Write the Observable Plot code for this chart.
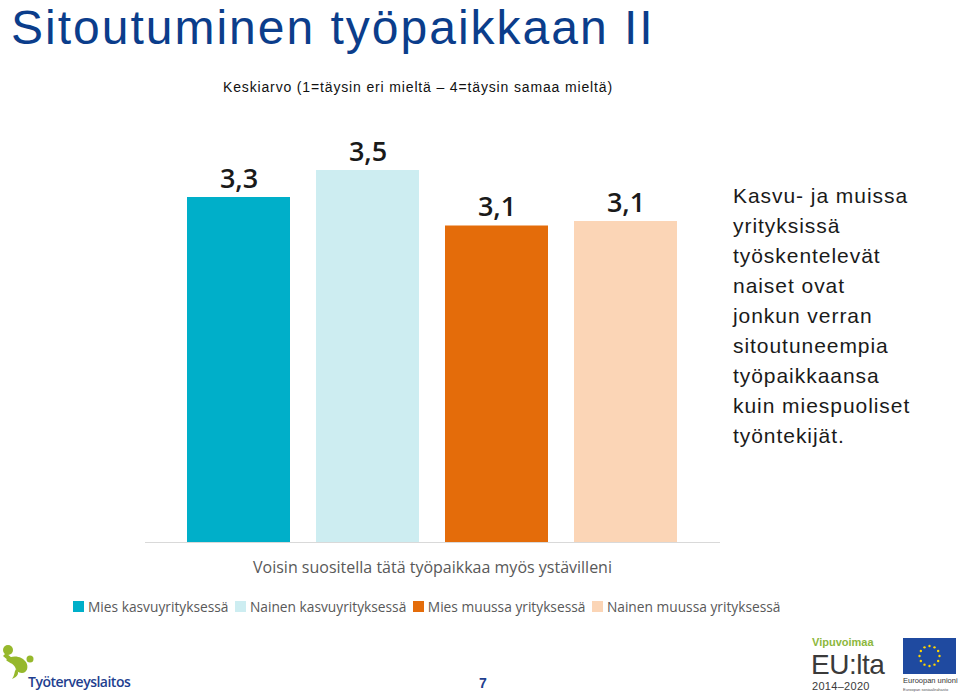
<!DOCTYPE html>
<html>
<head>
<meta charset="utf-8">
<script src="https://cdn.jsdelivr.net/npm/d3@7"></script>
<script src="https://cdn.jsdelivr.net/npm/@observablehq/plot@0.6"></script>
<style>
  html, body { margin: 0; padding: 0; background: #fff; }
  #page { position: relative; width: 960px; height: 694px; overflow: hidden; font-family: "Liberation Sans", Arial, sans-serif; }
  .abs { position: absolute; white-space: nowrap; line-height: normal; }
  #title { left: 11px; top: 0px; font-size: 48px; color: #0b3d8b; letter-spacing: 2px; }
  #subtitle { left: 223px; top: 79px; font-size: 14px; color: #111; letter-spacing: 0.85px; }
  #side { left: 733px; top: 181px; font-size: 21px; line-height: 30px; color: #1a1a1a; white-space: normal; width: 227px; letter-spacing: 0.95px; }
  #chart { left: 145px; top: 122px; }
  #cat { left: 145px; width: 575px; top: 556px; text-align: center; font-family: "Open Sans", sans-serif; font-size: 16px; line-height: 22px; color: #595959; }
  #legend { left: 73px; top: 597px; display: flex; font-family: "Open Sans", sans-serif; font-size: 13.75px; color: #595959; }
  .li { display: flex; align-items: center; margin-right: 6.5px; }
  .sw { width: 11px; height: 11px; margin-right: 4px; }
  #pnum { left: 479px; top: 675px; font-size: 14px; font-weight: bold; color: #1f3f8f; }
  #ttl { left: 28px; top: 673px; font-family: "Open Sans", sans-serif; font-size: 14px; line-height: 18px; font-weight: 600; color: #1f3f8f; letter-spacing: -0.5px; }
  #vip { left: 812px; top: 636px; font-size: 11px; font-weight: 700; color: #8cb73c; }
  #eu { left: 811px; top: 648.5px; font-size: 28px; color: #3a3a3a; letter-spacing: -0.5px; }
  #yrs { left: 812px; top: 680px; font-size: 11px; color: #3a3a3a; letter-spacing: 0.3px; }
  #flag { left: 903px; top: 638px; width: 53px; height: 36px; background: #1f4aa0; }
  #euu { left: 903px; top: 676px; font-size: 7.5px; color: #333; }
  #euu2 { left: 903px; top: 687px; font-size: 4px; color: #555; }
</style>
</head>
<body>
<div id="page">
  <div class="abs" id="title">Sitoutuminen työpaikkaan II</div>
  <div class="abs" id="subtitle">Keskiarvo (1=täysin eri mieltä – 4=täysin samaa mieltä)</div>
  <div class="abs" id="chart"></div>
  <div class="abs" id="cat"></div>
  <div class="abs" id="legend"></div>
  <div class="abs" id="side">Kasvu- ja muissa<br>yrityksissä<br>työskentelevät<br>naiset ovat<br>jonkun verran<br>sitoutuneempia<br>työpaikkaansa<br>kuin miespuoliset<br>työntekijät.</div>

  <svg class="abs" style="left:0;top:644px" width="36" height="36" viewBox="0 0 36 36">
    <circle cx="8" cy="6" r="5" fill="#96b82c"/>
    <path d="M6 9 L12 14 L9 17 L3 12 Z" fill="#96b82c"/>
    <path d="M6 16 C12 10, 22 12, 26 18 C29 23, 27 29, 22 29 C18 29, 16 26, 15 23 C13 19, 9 19, 6 16 Z" fill="#96b82c"/>
    <circle cx="30" cy="15" r="3.5" fill="#96b82c"/>
    <path d="M16 25 C20 28, 18 33, 12 35 C15 31, 14 28, 16 25 Z" fill="#96b82c"/>
  </svg>
  <div class="abs" id="ttl">Työterveyslaitos</div>
  <div class="abs" id="pnum">7</div>
  <div class="abs" id="vip">Vipuvoimaa</div>
  <div class="abs" id="eu">EU:lta</div>
  <div class="abs" id="yrs">2014–2020</div>
  <div class="abs" id="flag"></div>
  <svg class="abs" style="left:903px;top:638px" width="53" height="36">
    <g fill="#ffd500" id="stars"></g>
  </svg>
  <div class="abs" id="euu">Euroopan unioni</div>
  <div class="abs" id="euu2">Euroopan sosiaalirahasto</div>
</div>
<script>
// ---- data ----
const series = ["Mies kasvuyrityksessä", "Nainen kasvuyrityksessä", "Mies muussa yrityksessä", "Nainen muussa yrityksessä"];
const values = [3.30, 3.48, 3.11, 3.14];
const colors = ["#00afc9", "#cdedf1", "#e46c0a", "#fbd5b6"];
const category = "Voisin suositella tätä työpaikkaa myös ystävilleni";
const yDomain = [1, 3.8];

const data = series.map((s, i) => ({series: s, value: values[i]}));
const fmt = v => d3.format(".1f")(v).replace(".", ",");

const chart = Plot.plot({
  width: 575,
  height: 421,
  marginLeft: 0, marginRight: 0, marginTop: 0, marginBottom: 1,
  x: {domain: series, paddingInner: 0.2, paddingOuter: 0.315, axis: null},
  y: {domain: yDomain, axis: null},
  color: {domain: series, range: colors},
  style: {background: "transparent"},
  marks: [
    Plot.barY(data, {x: "series", y1: yDomain[0], y2: "value", fill: "series"}),
    Plot.ruleY([yDomain[0]], {stroke: "#d9d9d9", strokeWidth: 1}),
    Plot.text(data, {x: "series", y: "value", text: d => fmt(d.value), dy: -10, lineAnchor: "bottom",
      fontSize: 27, fontWeight: 600, fill: "#1a1a1a", fontFamily: "Open Sans, sans-serif"})
  ]
});
document.getElementById("chart").appendChild(chart);
document.getElementById("cat").textContent = category;

const leg = document.getElementById("legend");
series.forEach((s, i) => {
  const it = document.createElement("div"); it.className = "li";
  const sw = document.createElement("div"); sw.className = "sw"; sw.style.background = colors[i];
  const t = document.createElement("span"); t.textContent = s;
  it.appendChild(sw); it.appendChild(t); leg.appendChild(it);
});

// EU flag stars (decorative)
const g = document.getElementById("stars");
for (let k = 0; k < 12; k++) {
  const a = k / 12 * 2 * Math.PI;
  const c = document.createElementNS("http://www.w3.org/2000/svg", "circle");
  c.setAttribute("cx", 26.5 + 10 * Math.cos(a));
  c.setAttribute("cy", 18 + 10 * Math.sin(a));
  c.setAttribute("r", 1.2);
  g.appendChild(c);
}
</script>
</body>
</html>
